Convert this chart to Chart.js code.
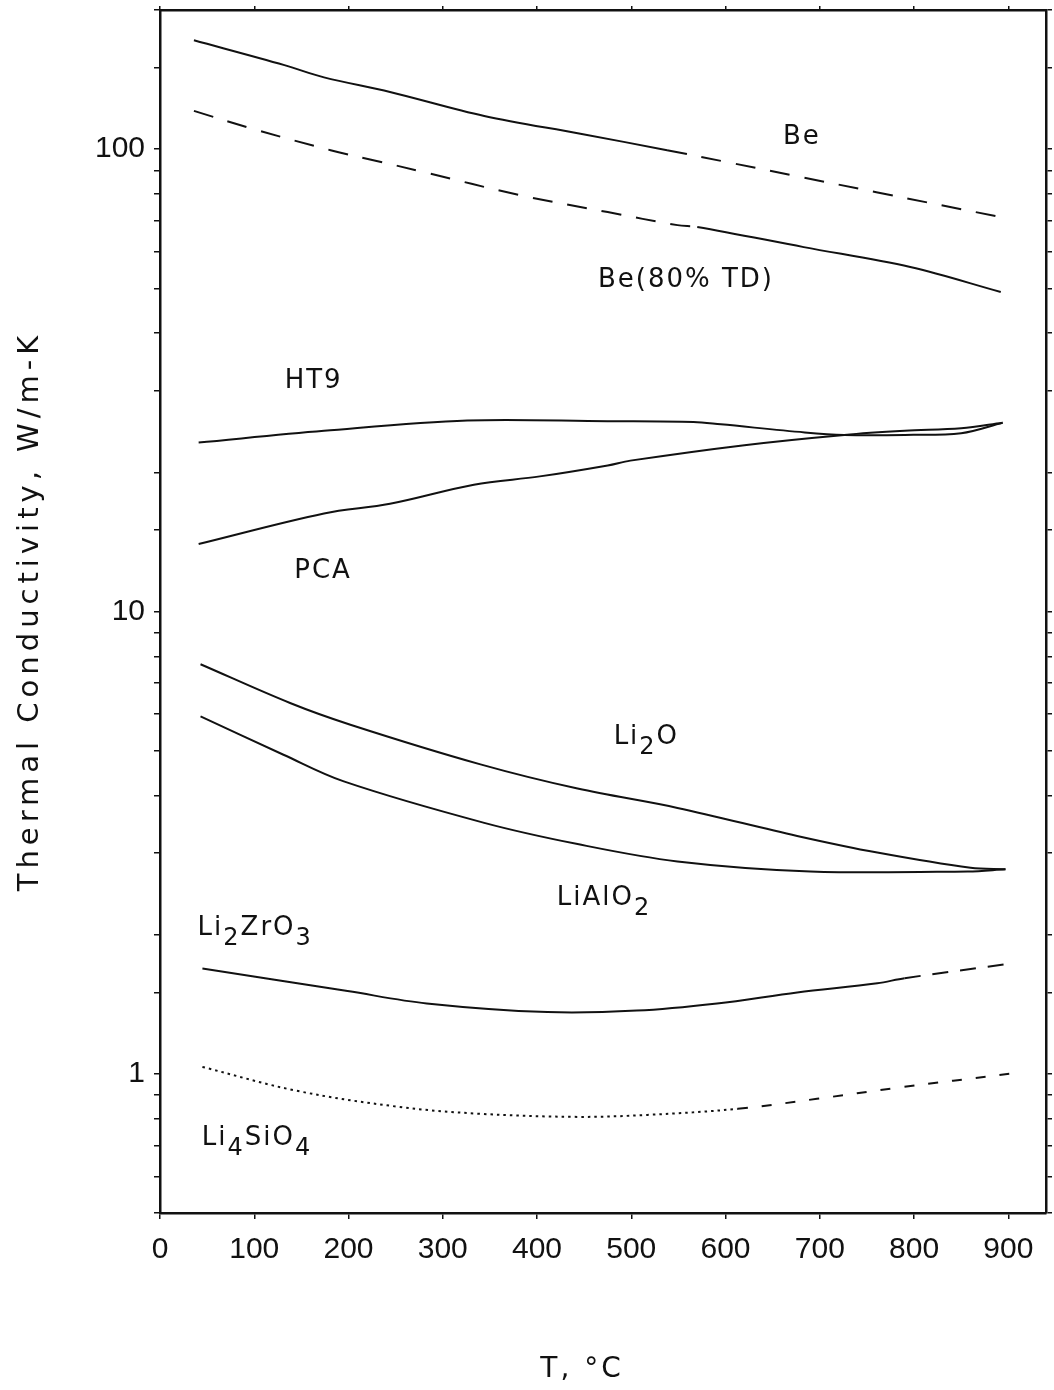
<!DOCTYPE html>
<html>
<head>
<meta charset="utf-8">
<title>Thermal conductivity of blanket materials</title>
<script src="https://cdn.jsdelivr.net/npm/chart.js@4.4.1/dist/chart.umd.min.js"></script>
<style>
  html, body { margin: 0; padding: 0; background: #fff; }
  #wrap { width: 1054px; height: 1390px; }
</style>
</head>
<body>
<div id="wrap"><canvas id="myChart" width="1054" height="1390"></canvas></div>
<script>
// temperature (deg C) and thermal conductivity (W/m-K) for each material
const beT = [36, 132, 174, 244, 344, 446, 538, 600, 676, 760, 892];
const beK = [172, 152, 143, 133, 118, 108, 99.5, 93.9, 87.4, 80.7, 71.3];

const be80T = [36, 96, 181, 231, 280, 381, 475, 549, 570, 683, 796, 892];
const be80K = [121, 111, 99.5, 94.2, 89.2, 79.6, 73.1, 68.5, 67.9, 61.4, 55.6, 49.1];

const ht9T = [41, 174, 326, 475, 566, 595, 684, 726, 790, 850, 894];
const ht9K = [23.2, 24.6, 25.9, 25.8, 25.7, 25.4, 24.4, 24.1, 24.1, 24.3, 25.6];

const pcaT = [41, 174, 244, 333, 403, 475, 499, 620, 726, 790, 850, 894];
const pcaK = [14.0, 16.3, 17.1, 18.8, 19.6, 20.7, 21.2, 22.9, 24.1, 24.6, 24.9, 25.6];

const li2oT = [43, 138, 202, 340, 443, 549, 676, 761, 860, 897];
const li2oK = [7.69, 6.34, 5.69, 4.67, 4.14, 3.76, 3.27, 3.01, 2.79, 2.77];

const lialo2T = [43, 131, 195, 344, 443, 549, 690, 857, 897];
const lialo2K = [5.93, 4.90, 4.29, 3.49, 3.14, 2.88, 2.74, 2.74, 2.77];

const li2zro3T = [45, 120, 199, 283, 411, 506, 591, 676, 761, 790, 901];
const li2zro3K = [1.69, 1.60, 1.51, 1.42, 1.36, 1.37, 1.42, 1.50, 1.57, 1.61, 1.73];

const li4sio4T = [45, 145, 252, 337, 443, 517, 613, 697, 782, 901];
const li4sio4K = [1.035, 0.919, 0.849, 0.820, 0.807, 0.815, 0.84, 0.883, 0.933, 1.0];

// axis ticks
const tempTicks = [0, 100, 200, 300, 400, 500, 600, 700, 800, 900];
const kLabels = [1, 10, 100];

// curve names, [text, isSubscript] pieces, anchored at (T, k)
const curveLabels = [
  { parts: [['Be', 0]], t: 681, k: 108 },
  { parts: [['Be(80% TD)', 0]], t: 558, k: 52.9 },
  { parts: [['HT9', 0]], t: 163, k: 32.0 },
  { parts: [['PCA', 0]], t: 173, k: 12.4 },
  { parts: [['Li', 0], ['2', 1], ['O', 0]], t: 516, k: 5.43 },
  { parts: [['LiAlO', 0], ['2', 1]], t: 471, k: 2.44 },
  { parts: [['Li', 0], ['2', 1], ['ZrO', 0], ['3', 1]], t: 101, k: 2.10 },
  { parts: [['Li', 0], ['4', 1], ['SiO', 0], ['4', 1]], t: 103, k: 0.737 }
];

const ink = '#111';
const toPoints = (ts, ks) => ts.map((t, i) => ({ x: t, y: ks[i] }));

function curve(ts, ks, dash) {
    return {
        data: toPoints(ts, ks),
        borderColor: ink,
        borderWidth: 2,
        pointRadius: 0,
        tension: 0.35,
        fill: false,
        segment: { borderDash: dash }
    };
}

// draws the curve names and both axis titles
const textPlugin = {
    id: 'curveText',
    afterDraw(chart) {
        const { ctx, scales: { x, y } } = chart;
        const fam = '"DejaVu Sans", sans-serif';
        ctx.save();
        ctx.fillStyle = ink;
        ctx.textAlign = 'left';
        ctx.textBaseline = 'alphabetic';
        ctx.letterSpacing = '2px';
        curveLabels.forEach(lab => {
            const px = x.getPixelForValue(lab.t);
            const py = y.getPixelForValue(lab.k);
            let w = 0;
            lab.parts.forEach(([s, sub]) => {
                ctx.font = (sub ? 24 : 26) + 'px ' + fam;
                w += ctx.measureText(s).width;
            });
            let cx = px - w / 2;
            lab.parts.forEach(([s, sub]) => {
                ctx.font = (sub ? 24 : 26) + 'px ' + fam;
                ctx.fillText(s, cx, py + 10 + (sub ? 10 : 0));
                cx += ctx.measureText(s).width;
            });
        });

        // axis titles
        ctx.font = '28px ' + fam;
        ctx.textAlign = 'center';
        ctx.textBaseline = 'middle';
        ctx.letterSpacing = '3px';
        ctx.fillText('T, °C', 582, 1370);
        ctx.translate(30, 611);
        ctx.rotate(-Math.PI / 2);
        ctx.font = '29px ' + fam;
        ctx.letterSpacing = '5px';
        ctx.fillText('Thermal Conductivity, W/m-K', 0, 0);
        ctx.restore();
    }
};

const tickFont = { family: '"Liberation Sans", sans-serif', size: 30 };
const edge = { display: true, color: ink, width: 2.5 };
const tickMarks = { drawOnChartArea: false, drawTicks: true, tickLength: 6, color: ink, lineWidth: 1.5 };
const setTempTicks = s => { s.ticks = tempTicks.map(v => ({ value: v })); };
// keep tick label overhang from shrinking the plot box
const fixBox = (w, h) => s => {
    if (w !== null) s.width = w;
    if (h !== null) s.height = h;
    s.paddingTop = 0; s.paddingBottom = 0; s.paddingLeft = 0; s.paddingRight = 0;
};

const ctx = document.getElementById('myChart').getContext('2d');

new Chart(ctx, {
    type: 'line',
    data: {
        datasets: [
            curve(beT, beK, c => c.p0.parsed.x >= 538 ? [20, 15] : undefined),
            curve(be80T, be80K, c => c.p0.parsed.x < 560 ? [20, 15] : undefined),
            curve(ht9T, ht9K),
            curve(pcaT, pcaK),
            curve(li2oT, li2oK),
            curve(lialo2T, lialo2K),
            curve(li2zro3T, li2zro3K, c => c.p0.parsed.x >= 790 ? [16, 12] : undefined),
            curve(li4sio4T, li4sio4K, c => c.p0.parsed.x >= 613 ? [10, 14] : [2.5, 4])
        ]
    },
    options: {
        responsive: false,
        animation: false,
        layout: { padding: 0 },
        plugins: { legend: { display: false }, tooltip: { enabled: false } },
        scales: {
            x: {
                type: 'linear', position: 'bottom', min: 0, max: 940,
                afterBuildTicks: setTempTicks,
                afterFit: fixBox(null, 177),
                grid: tickMarks, border: edge,
                ticks: { color: ink, font: tickFont, padding: 13, maxRotation: 0, autoSkip: false }
            },
            xTop: {
                type: 'linear', position: 'top', min: 0, max: 940,
                afterBuildTicks: setTempTicks,
                afterFit: fixBox(null, 10),
                grid: { ...tickMarks, tickLength: 4 }, border: edge,
                ticks: { display: false }
            },
            y: {
                type: 'logarithmic', position: 'left', min: 0.5, max: 200,
                afterFit: fixBox(160, null),
                grid: tickMarks, border: edge,
                ticks: {
                    color: ink, font: tickFont, padding: 9, autoSkip: false,
                    callback: v => kLabels.includes(v) ? String(v) : ''
                }
            },
            y2: {
                type: 'logarithmic', position: 'right', min: 0.5, max: 200,
                afterFit: fixBox(8, null),
                grid: tickMarks, border: edge,
                ticks: { display: false, autoSkip: false }
            }
        }
    },
    plugins: [textPlugin]
});
</script>
</body>
</html>
